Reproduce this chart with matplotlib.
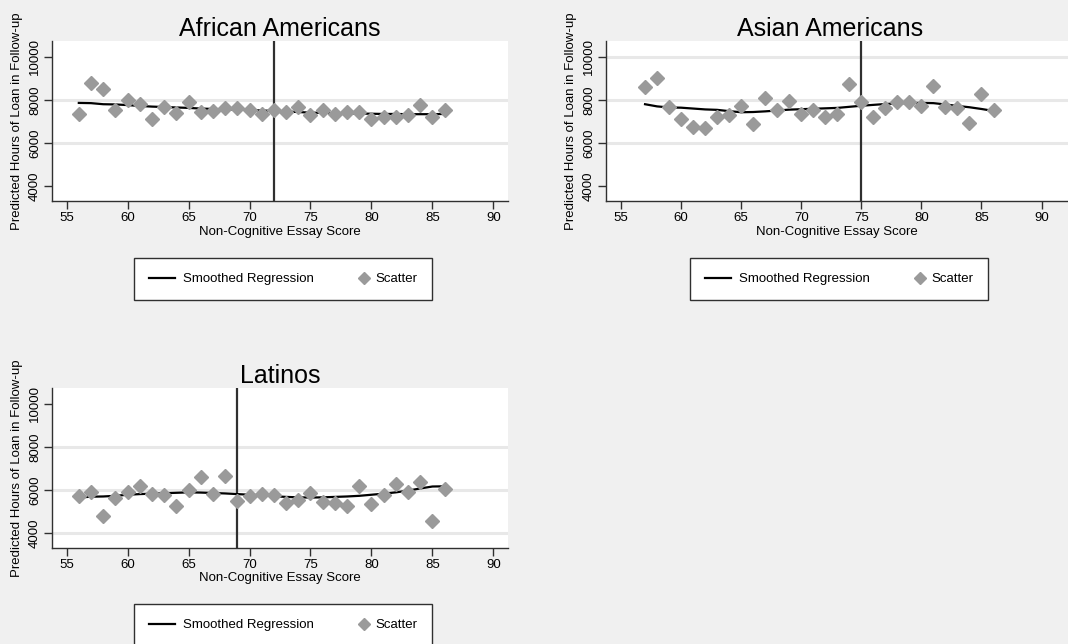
import matplotlib
matplotlib.use("Agg")
import matplotlib.pyplot as plt
from matplotlib.legend_handler import HandlerLine2D

plt.rcParams['font.family'] = ['Liberation Sans', 'DejaVu Sans']

# scores on the x axis
x_aa = list(range(56, 87))
x_as = list(range(57, 87))
x_la = list(range(56, 87))

# African Americans
aa_scatter = [7350, 8770, 8510, 7540, 8000, 7800, 7120, 7690, 7390, 7880,
              7460, 7490, 7620, 7620, 7540, 7350, 7540, 7460, 7690, 7280,
              7540, 7340, 7460, 7460, 7120, 7230, 7230, 7280, 7770, 7190, 7540]
aa_smooth = [7860, 7850, 7800, 7790, 7760, 7720, 7690, 7670, 7650, 7630,
             7600, 7580, 7570, 7550, 7530, 7510, 7490, 7460, 7440, 7410,
             7400, 7390, 7380, 7370, 7360, 7350, 7350, 7340, 7340, 7340, 7350]

# Asian Americans
as_scatter = [8590, 9000, 7660, 7110, 6770, 6720, 7190, 7280, 7740, 6890,
              8080, 7540, 7950, 7340, 7540, 7230, 7340, 8720, 7920, 7230,
              7620, 7920, 7920, 7740, 8650, 7660, 7620, 6950, 8250, 7540]
as_smooth = [7800, 7700, 7650, 7640, 7600, 7560, 7540, 7480, 7430, 7440,
             7470, 7510, 7550, 7570, 7590, 7610, 7630, 7680, 7730, 7770,
             7810, 7840, 7860, 7860, 7850, 7790, 7720, 7660, 7580, 7490]

# Latinos
la_scatter = [5740, 5920, 4800, 5650, 5910, 6190, 5820, 5770, 5260, 6000,
              6620, 5820, 6660, 5510, 5720, 5820, 5770, 5430, 5540, 5880,
              5460, 5420, 5280, 6190, 5350, 5770, 6280, 5920, 6390, 4570, 6050]
la_smooth = [5660, 5700, 5710, 5740, 5790, 5820, 5840, 5860, 5880, 5900,
             5890, 5870, 5850, 5820, 5790, 5760, 5720, 5690, 5670, 5660,
             5670, 5690, 5710, 5740, 5790, 5840, 5900, 5980, 6080, 6170, 6180]

titles = ["African Americans", "Asian Americans", "Latinos"]
cutoffs = [72, 75, 69]
xticks = [55, 60, 65, 70, 75, 80, 85, 90]
yticks = [4000, 6000, 8000, 10000]


class RightMarker(HandlerLine2D):
    # single marker is drawn at the midpoint, so shift the span right
    def get_xdata(self, legend, xdescent, ydescent, width, height, fontsize):
        xd = [-xdescent + 0.7 * width, -xdescent + width]
        return xd, [-xdescent + 0.85 * width]


W, H = 1068, 644
fig = plt.figure(figsize=(W / 100, H / 100), dpi=100, facecolor='#f0f0f0')


def box(l, t, r, b):
    return [l / W, 1 - b / H, (r - l) / W, (b - t) / H]


panels = [
    (box(52, 41, 508, 201), (53.8, 91.2), x_aa, aa_scatter, aa_smooth, [6000, 8000], 0.5, (134, 258, 432, 300)),
    (box(606, 41, 1068, 201), (53.75, 92.2), x_as, as_scatter, as_smooth, [6000, 8000, 10000], 0.485, (690, 258, 988, 300)),
    (box(52, 388, 508, 548), (53.8, 91.2), x_la, la_scatter, la_smooth, [4000, 6000, 8000], 0.5, (134, 604, 432, 646)),
]

grey = '#9a9a9a'
dark = '#303030'

for i, (rect, xl, xs, sc, sm, grid, tx, lg) in enumerate(panels):
    ax = fig.add_axes(rect)
    ax.set_facecolor('white')
    for g in grid:
        ax.axhline(g, color='#e8e8e8', lw=2.2, zorder=0)
    ax.axvline(cutoffs[i], color=dark, lw=1.6, zorder=1)
    line, = ax.plot(xs, sm, color='black', lw=1.6, zorder=2, label='Smoothed Regression')
    pts, = ax.plot(xs, sc, linestyle='none', marker='D', ms=7.5, color=grey,
                   mec=grey, zorder=3, label='Scatter')
    ax.set_xlim(*xl)
    ax.set_ylim(3330, 10720)
    ax.set_xticks(xticks)
    ax.set_yticks(yticks)
    ax.tick_params(axis='both', length=6, width=1, color=dark, labelsize=9.5, pad=2)
    ax.tick_params(axis='y', labelrotation=90)
    for lab in ax.get_yticklabels():
        lab.set_va('center')
    for s in ['top', 'right']:
        ax.spines[s].set_visible(False)
    for s in ['left', 'bottom']:
        ax.spines[s].set_color(dark)
        ax.spines[s].set_linewidth(1)
    ax.set_xlabel("Non-Cognitive Essay Score", fontsize=9.5, labelpad=1)
    ax.set_ylabel("Predicted Hours of Loan in Follow-up", fontsize=9.5, labelpad=4)
    ax.set_title(titles[i], fontsize=18, x=tx, pad=3)

    l, t, r, b = lg
    leg = ax.legend(handles=[line, pts], ncol=2, mode='expand', loc='center',
                    bbox_to_anchor=(l / W, 1 - b / H, (r - l) / W, (b - t) / H),
                    bbox_transform=fig.transFigure, borderaxespad=0, borderpad=1.1,
                    fontsize=9.5, handlelength=2.0, handletextpad=0.6,
                    numpoints=1, fancybox=False, framealpha=1, edgecolor=dark,
                    markerscale=0.85, handler_map={pts: RightMarker()})
    leg.get_frame().set_linewidth(1)

fig.savefig("out.png", dpi=100, facecolor=fig.get_facecolor())
